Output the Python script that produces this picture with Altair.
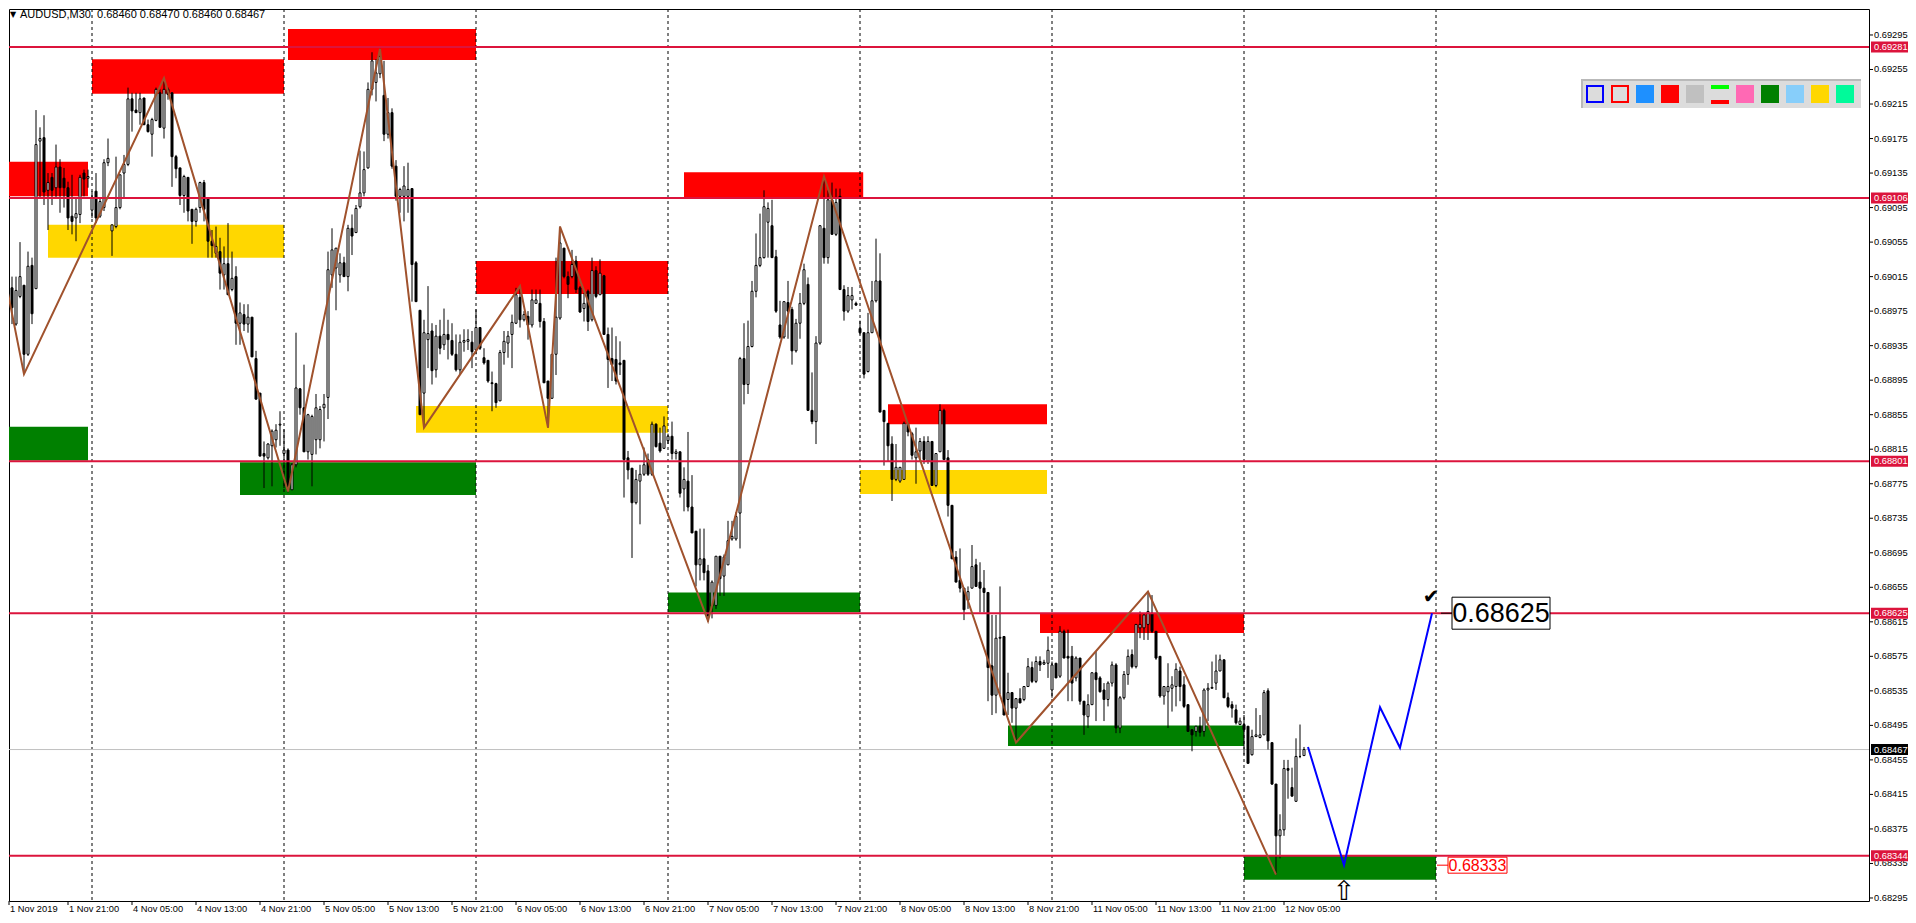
import altair as alt
import pandas as pd

FONT = "Liberation Sans"
SYM_FONT = "DejaVu Sans"

# ---------------- data (prices as points above 0.68000, 1 point = 0.00001) -------------
OPEN = [
 946,979,1002,960,992,1005,925,1028,1001,1172,
 1176,1115,1130,1118,1142,1129,1118,1085,1083,1087,
 1135,1129,1092,1114,1085,1095,1147,1068,1073,1095,
 1135,1145,1221,1208,1205,1222,1191,1180,1196,1228,
 1187,1232,1228,1154,1141,1109,1130,1093,1079,1095,
 1124,1106,1056,1042,1044,1017,1030,1000,1015,961,
 971,960,968,920,880,810,805,819,826,843,
 810,814,768,797,885,863,812,809,826,826,
 863,875,1017,1025,1017,1031,1015,1071,1066,1096,
 1112,1141,1232,1240,1250,1225,1180,1205,1143,1108,
 1108,1108,1117,1031,976,880,942,952,907,946,
 936,948,941,925,907,939,940,939,930,956,
 921,918,892,891,871,927,938,948,961,991,
 965,969,959,984,984,963,894,874,925,967,
 1048,1015,1015,1033,1002,978,998,965,1022,994,
 1016,948,920,919,915,918,805,793,753,778,
 786,803,786,844,822,816,825,830,810,812,
 769,778,748,720,681,688,674,633,634,691,
 668,681,711,711,741,920,890,934,998,1028,
 1037,1078,1074,1038,959,945,985,977,929,961,
 984,1006,860,847,938,1071,1037,1104,1064,1108,
 1000,975,988,984,955,950,905,950,987,1010,
 860,845,821,780,778,780,844,833,805,813,
 824,801,824,773,812,860,805,750,690,663,
 654,640,654,681,661,654,649,564,530,596,
 598,525,533,515,526,525,540,562,546,569,
 566,567,536,567,552,604,575,575,550,573,
 523,505,519,556,550,536,525,544,565,492,
 527,554,577,563,608,608,612,625,604,575,
 529,534,538,540,558,542,519,490,488,494,
 488,536,538,544,558,571,527,519,513,496,
 496,494,461,482,481,484,535,475,427,367,
 374,445,423,407,459,460]

HIGH = [
 987,1009,1015,1015,1055,1005,1044,1037,1208,1188,
 1202,1135,1135,1168,1151,1141,1125,1133,1106,1133,
 1139,1139,1114,1135,1106,1151,1175,1075,1154,1133,
 1156,1234,1228,1228,1228,1222,1197,1199,1234,1232,
 1245,1234,1228,1156,1141,1133,1130,1093,1095,1125,
 1127,1106,1069,1073,1060,1050,1077,1044,1027,985,
 983,983,968,929,880,824,822,838,844,859,
 838,816,799,950,886,913,856,855,879,865,
 879,1044,1071,1048,1042,1038,1075,1087,1098,1161,
 1160,1240,1275,1267,1279,1265,1222,1210,1150,1118,
 1143,1147,1117,1033,976,965,1004,961,959,965,
 978,965,961,948,948,954,954,952,977,956,
 932,918,905,892,930,952,952,971,1002,1004,
 975,975,1000,1000,1000,967,894,925,1037,1073,
 1048,1021,1046,1039,1004,996,1000,1037,1027,1035,
 1017,956,956,946,940,918,813,793,791,797,
 817,810,847,845,840,853,833,847,815,812,
 794,835,785,720,723,723,681,663,691,691,
 693,732,732,742,922,961,964,1010,1065,1088,
 1115,1101,1104,1046,987,986,1010,980,966,996,
 1030,1014,904,946,1074,1131,1115,1124,1117,1117,
 1005,1003,1003,986,964,950,973,1010,1059,1042,
 860,845,830,821,794,847,845,835,840,828,
 830,830,824,810,867,862,814,750,697,700,
 654,656,704,688,684,675,649,623,623,656,
 598,556,533,526,538,540,573,569,575,575,
 571,598,569,567,610,606,606,587,575,573,
 523,531,556,581,552,544,546,569,567,529,
 558,583,583,612,627,625,650,646,604,575,
 540,567,552,567,563,552,519,490,494,505,
 538,544,569,577,577,571,533,523,519,504,
 507,494,490,515,507,536,538,475,427,392,
 455,455,446,480,496,470]

LOW = [
 944,944,960,958,990,902,923,960,1001,1106,
 1098,1069,1098,1106,1089,1095,1069,1064,1056,1077,
 1108,1118,1083,1077,1083,1091,1143,1039,1071,1093,
 1106,1143,1183,1205,1191,1191,1182,1154,1195,1188,
 1175,1220,1119,1129,1098,1089,1079,1053,1073,1089,
 1079,1037,1037,1037,1000,1000,994,998,936,936,
 952,950,922,873,807,770,803,772,817,819,
 770,765,768,794,855,812,803,772,809,816,
 824,850,1002,976,1008,1015,998,1040,1066,1094,
 1108,1140,1225,1218,1245,1172,1175,1140,1103,1089,
 1079,1089,986,986,855,840,909,890,898,925,
 930,919,923,905,901,928,930,909,925,930,
 913,892,859,863,871,913,921,909,960,956,
 963,942,956,984,956,892,840,874,901,965,
 1013,990,1013,996,973,963,952,963,990,994,
 948,886,894,890,901,759,780,689,751,728,
 784,784,784,817,811,816,821,803,803,759,
 743,743,718,656,663,663,615,619,630,645,
 645,681,709,709,700,867,879,933,991,1026,
 1036,1037,1037,973,943,943,943,913,927,943,
 982,860,844,821,936,1030,1030,1064,1062,1000,
 964,973,977,981,948,897,904,950,985,858,
 796,801,755,778,776,780,830,803,775,801,
 798,798,773,771,812,803,737,688,661,649,
 617,630,654,656,626,626,523,507,509,531,
 507,507,498,475,521,523,540,544,544,558,
 565,550,527,550,550,573,523,523,546,519,
 484,492,519,500,533,500,517,540,486,486,
 525,542,561,561,596,594,594,602,571,527,
 519,492,511,517,523,515,488,465,482,482,
 482,500,538,536,558,527,515,504,496,496,
 461,451,460,482,480,484,467,426,322,341,
 367,410,413,407,457,460]

CLOSE = [
 983,1006,979,999,1015,925,1027,972,1168,1175,
 1113,1124,1115,1142,1118,1118,1083,1079,1088,1130,
 1128,1131,1107,1083,1102,1147,1152,1075,1095,1133,
 1145,1221,1207,1205,1221,1191,1183,1197,1232,1188,
 1232,1226,1154,1140,1109,1131,1091,1079,1093,1124,
 1093,1056,1051,1050,1019,1030,994,1013,961,973,
 960,968,922,873,807,807,821,836,837,844,
 814,768,797,886,863,812,855,853,863,861,
 867,1023,1046,1048,1031,1015,1071,1062,1094,1112,
 1139,1232,1265,1251,1270,1180,1205,1143,1108,1116,
 1120,1116,1029,986,855,950,949,906,946,932,
 948,942,925,907,939,941,942,928,956,932,
 915,894,891,869,927,940,946,962,994,965,
 971,959,988,988,963,892,874,925,968,1054,
 1015,1006,1029,1000,974,984,963,1022,992,1019,
 948,919,913,894,913,803,791,753,780,786,
 797,786,844,818,813,842,830,810,812,764,
 780,748,718,681,688,672,622,661,691,665,
 690,709,714,737,920,890,934,998,1028,1037,
 1096,1094,1037,975,945,986,975,929,961,984,
 1023,860,847,938,1074,1037,1104,1064,1101,1000,
 975,993,993,982,950,902,950,987,1010,858,
 847,819,780,794,794,845,835,808,812,824,
 803,824,773,810,860,803,750,688,661,654,
 629,650,679,656,654,649,562,530,596,597,
 507,533,515,526,521,540,563,546,569,565,
 568,582,565,550,604,573,573,544,573,523,
 507,519,556,548,534,525,544,565,492,527,
 554,575,563,612,612,623,627,604,573,529,
 540,540,542,560,540,517,488,484,494,487,
 536,538,539,558,571,527,517,515,498,500,
 490,451,482,484,484,533,477,427,367,374,
 445,443,413,459,459,467]

TIME_LABELS = ["1 Nov 2019", "1 Nov 21:00", "4 Nov 05:00", "4 Nov 13:00", "4 Nov 21:00",
               "5 Nov 05:00", "5 Nov 13:00", "5 Nov 21:00", "6 Nov 05:00", "6 Nov 13:00",
               "6 Nov 21:00", "7 Nov 05:00", "7 Nov 13:00", "7 Nov 21:00", "8 Nov 05:00",
               "8 Nov 13:00", "8 Nov 21:00", "11 Nov 05:00", "11 Nov 13:00", "11 Nov 21:00",
               "12 Nov 05:00"]
TIME_TICK_BARS = [1.25, 16, 32, 48, 64, 80, 96, 112, 128, 144, 160, 176, 192, 208, 224,
                  240, 256, 272, 288, 304, 320]
PRICE_TICKS = [0.68295, 0.68335, 0.68375, 0.68415, 0.68455, 0.68495, 0.68535, 0.68575,
               0.68615, 0.68655, 0.68695, 0.68735, 0.68775, 0.68815, 0.68855, 0.68895,
               0.68935, 0.68975, 0.69015, 0.69055, 0.69095, 0.69135, 0.69175, 0.69215,
               0.69255, 0.69295]

ZONE_START = [-1, 22, 71, 11, -1, 59, 118, 103, 170, 166, 221, 214, 259, 251, 310]
ZONE_END = [21, 70, 118, 70, 21, 118, 166, 166, 214.8, 214, 260.75, 260.75, 310, 310, 358]
ZONE_LOW = [1108, 1227, 1266, 1037, 802, 762, 995, 834, 1107, 626, 844, 763, 602, 471, 316]
ZONE_HIGH = [1148, 1267, 1302, 1075, 841, 800, 1033, 865, 1136, 649, 867, 791, 625, 495, 344]
ZONE_COLOR = ["#FF0000", "#FF0000", "#FF0000", "#FFD700", "#008000", "#008000", "#FF0000",
              "#FFD700", "#FF0000", "#008000", "#FF0000", "#FFD700", "#FF0000", "#008000",
              "#008000"]

LEVELS = [1281, 1106, 801, 625, 344]
LAST_PRICE = 467
DAY_STARTS = [22, 70, 118, 166, 214, 262, 310, 358]

ZZ_BAR = [-0.25, 5, 40, 71, 94, 105, 129, 136, 139, 176, 205, 253, 286, 318]
ZZ_PTS = [1025, 902, 1245, 766, 1279, 840, 1004, 840, 1073, 616, 1131, 475, 650, 322]

PATH_BAR = [326, 335, 344, 349, 357]
PATH_PTS = [470, 333, 516, 469, 625]

TARGET_BAR, TARGET_PTS = 358, 625
STOP_BAR, STOP_PTS = 358, 333
ARROW_BAR = 335

TOOL_FILLS = ["#DCDCDC", "#DCDCDC", "#1E90FF", "#FF0000", "#C0C0C0", "lines", "#FF69B4",
              "#008000", "#87CEFA", "#FFD700", "#00FA9A"]
TOOL_OUTLINES = {0: "#0000FF", 1: "#FF0000"}


def price(v):
    return round(0.68 + v / 100000.0, 5)


# ---------------- layout ----------------
W, H = 1860, 892
LABEL_SIZE = 9.3
xs = alt.Scale(domain=[1.25, 1.25 + W / 4.0], nice=False, zero=False)
ys = alt.Scale(domain=[0.682915, 0.693251], nice=False, zero=False)


def X(f):
    return alt.X(f, scale=xs, axis=None)


def Y(f):
    return alt.Y(f, scale=ys, axis=None)


n = min(len(OPEN), len(HIGH), len(LOW), len(CLOSE))
cd = pd.DataFrame({
    "bar": list(range(n)),
    "o": [price(v) for v in OPEN[:n]],
    "h": [price(v) for v in HIGH[:n]],
    "l": [price(v) for v in LOW[:n]],
    "c": [price(v) for v in CLOSE[:n]],
})
cd["b0"] = cd["bar"] - 0.25
cd["b1"] = cd["bar"] + 0.25

zones_df = pd.DataFrame({
    "b0": ZONE_START, "b1": ZONE_END,
    "p0": [price(v) for v in ZONE_LOW], "p1": [price(v) for v in ZONE_HIGH],
    "col": ZONE_COLOR,
})
zones = alt.Chart(zones_df).mark_rect(clip=True).encode(
    x=X("b0:Q"), x2="b1:Q", y=Y("p0:Q"), y2="p1:Q",
    fill=alt.Fill("col:N", scale=None))

seps = alt.Chart(pd.DataFrame({"bar": DAY_STARTS})).mark_rule(
    color="black", strokeWidth=1, strokeDash=[3, 3]).encode(x=X("bar:Q"))

levels_df = pd.DataFrame({"p": [price(v) for v in LEVELS]})
levels = alt.Chart(levels_df).mark_rule(color="#DC143C", strokeWidth=2).encode(y=Y("p:Q"))

last_df = pd.DataFrame({"p": [price(LAST_PRICE)]})
last_line = alt.Chart(last_df).mark_rule(color="#C0C0C0", strokeWidth=1).encode(y=Y("p:Q"))

wicks = alt.Chart(cd).mark_rule(color="black", strokeWidth=1, clip=True).encode(
    x=X("bar:Q"), y=Y("l:Q"), y2="h:Q")
bodies = alt.Chart(cd).mark_rect(stroke="black", strokeWidth=1, clip=True).encode(
    x=X("b0:Q"), x2="b1:Q", y=Y("o:Q"), y2="c:Q",
    fill=alt.condition("datum.c >= datum.o", alt.value("white"), alt.value("black")))

zz_df = pd.DataFrame({"k": list(range(len(ZZ_BAR))), "bar": ZZ_BAR,
                      "p": [price(v) for v in ZZ_PTS]})
zigzag = alt.Chart(zz_df).mark_line(color="#A0522D", strokeWidth=2, clip=True).encode(
    x=X("bar:Q"), y=Y("p:Q"), order="k:Q")

path_df = pd.DataFrame({"k": list(range(len(PATH_BAR))), "bar": PATH_BAR,
                        "p": [price(v) for v in PATH_PTS]})
path = alt.Chart(path_df).mark_line(color="#0000FF", strokeWidth=2).encode(
    x=X("bar:Q"), y=Y("p:Q"), order="k:Q")

# ---------------- axes (drawn through the scales) ----------------
yt_df = pd.DataFrame({"p": PRICE_TICKS, "txt": ["%.5f" % v for v in PRICE_TICKS]})
y_ticks = alt.Chart(yt_df).mark_rule(color="black", strokeWidth=1).encode(
    x=alt.value(W), x2=alt.value(W + 4), y=Y("p:Q"))
y_labels = alt.Chart(yt_df).mark_text(align="left", baseline="middle", font=FONT,
                                      fontSize=LABEL_SIZE, color="black").encode(
    x=alt.value(W + 5), y=Y("p:Q"), text="txt:N")

xt_df = pd.DataFrame({"bar": TIME_TICK_BARS, "txt": TIME_LABELS})
x_ticks = alt.Chart(xt_df).mark_rule(color="black", strokeWidth=1).encode(
    x=X("bar:Q"), y=alt.value(H), y2=alt.value(H + 4))
x_labels = alt.Chart(xt_df).mark_text(align="left", baseline="middle", font=FONT,
                                      fontSize=LABEL_SIZE, color="black", dx=1).encode(
    x=X("bar:Q"), y=alt.value(H + 8), text="txt:N")

# price tags on the right axis
tag_prices = LEVELS + [LAST_PRICE]
tags_df = pd.DataFrame({
    "p": [price(v) for v in tag_prices],
    "txt": ["%.5f" % price(v) for v in tag_prices],
    "bg": ["#DC143C"] * len(LEVELS) + ["black"],
})
tag_bg = alt.Chart(tags_df).mark_rect(yOffset=-5.5, y2Offset=5.5).encode(
    x=alt.value(W + 2), x2=alt.value(W + 39), y=Y("p:Q"), y2="p:Q",
    fill=alt.Fill("bg:N", scale=None))
tag_tx = alt.Chart(tags_df).mark_text(align="left", baseline="middle", color="white",
                                      font=FONT, fontSize=LABEL_SIZE).encode(
    x=alt.value(W + 5), y=Y("p:Q"), text="txt:N")

# ---------------- annotations ----------------
tgt = pd.DataFrame({"bar": [TARGET_BAR], "p": [price(TARGET_PTS)],
                    "txt": ["%.5f" % price(TARGET_PTS)]})
tgt_link = alt.Chart(tgt).mark_rule(color="black", strokeWidth=1, xOffset=5, x2Offset=16).encode(
    x=X("bar:Q"), x2="bar:Q", y=Y("p:Q"))
tgt_box = alt.Chart(tgt).mark_rect(fill="white", stroke="black", strokeWidth=1,
                                   xOffset=16, x2Offset=114, yOffset=-16, y2Offset=16).encode(
    x=X("bar:Q"), x2="bar:Q", y=Y("p:Q"), y2="p:Q")
tgt_txt = alt.Chart(tgt).mark_text(font=FONT, fontSize=27, color="black", align="center",
                                   baseline="middle", dx=65, dy=1).encode(
    x=X("bar:Q"), y=Y("p:Q"), text="txt:N")
check = alt.Chart(tgt).mark_text(font=SYM_FONT, fontSize=20, color="black",
                                 align="center", baseline="middle", dx=-5, dy=-16,
                                 text="\u2714").encode(x=X("bar:Q"), y=Y("p:Q"))

stp = pd.DataFrame({"bar": [STOP_BAR], "p": [price(STOP_PTS)],
                    "txt": ["%.5f" % price(STOP_PTS)]})
stp_link = alt.Chart(stp).mark_rule(color="#FF0000", strokeWidth=1, xOffset=1, x2Offset=12).encode(
    x=X("bar:Q"), x2="bar:Q", y=Y("p:Q"))
stp_box = alt.Chart(stp).mark_rect(fill="white", stroke="#FF0000", strokeWidth=1,
                                   xOffset=12, x2Offset=71, yOffset=-8, y2Offset=8).encode(
    x=X("bar:Q"), x2="bar:Q", y=Y("p:Q"), y2="p:Q")
stp_txt = alt.Chart(stp).mark_text(font=FONT, fontSize=16, color="#FF0000", align="center",
                                   baseline="middle", dx=41.5, dy=1).encode(
    x=X("bar:Q"), y=Y("p:Q"), text="txt:N")

arr_df = pd.DataFrame({"bar": [ARROW_BAR], "p": [price(STOP_PTS)]})
arrow = alt.Chart(arr_df).mark_text(font=SYM_FONT, fontSize=27, color="black", align="center",
                                    baseline="middle", dy=27, text="\u21e7").encode(
    x=X("bar:Q"), y=Y("p:Q"))

# header
head_df = pd.DataFrame({"t": ["AUDUSD,M30\u00a0 0.68460 0.68470 0.68460 0.68467"]})
head = alt.Chart(head_df).mark_text(align="left", baseline="middle", font=FONT,
                                    fontSize=11, color="black").encode(
    x=alt.value(11), y=alt.value(6), text="t:N")
tri = alt.Chart(head_df).mark_text(align="center", baseline="middle", font=SYM_FONT,
                                   fontSize=8, color="black", text="\u25bc").encode(
    x=alt.value(4), y=alt.value(6))

# colour toolbar (top right), drawn as fixed-position widgets
TB_X = W - 288
tb_rows = [
    (TB_X, TB_X + 280, 70, 99, "#DCDCDC"),
    (TB_X, TB_X + 280, 70, 72, "#B9B9B9"),
    (TB_X, TB_X + 2, 70, 99, "#B9B9B9"),
]
for k, f in enumerate(TOOL_FILLS):
    x0 = TB_X + 5 + 25 * k
    if f == "lines":
        tb_rows.append((x0, x0 + 18, 76, 80, "#00FF00"))
        tb_rows.append((x0, x0 + 18, 91, 95, "#FF0000"))
    elif k not in TOOL_OUTLINES:
        tb_rows.append((x0, x0 + 18, 76, 94, f))

one = pd.DataFrame({"a": [0]})
tb_layers = []
for (x0, x1, y0, y1, f) in tb_rows:
    tb_layers.append(alt.Chart(one).mark_rect(fill=f).encode(
        x=alt.value(x0), x2=alt.value(x1), y=alt.value(y0), y2=alt.value(y1)))
for k, c in TOOL_OUTLINES.items():
    x0 = TB_X + 5 + 25 * k
    tb_layers.append(alt.Chart(one).mark_rect(fill="#DCDCDC", stroke=c, strokeWidth=2).encode(
        x=alt.value(x0 + 1), x2=alt.value(x0 + 17), y=alt.value(77), y2=alt.value(93)))

chart = alt.layer(
    zones, seps, last_line, wicks, bodies, levels, zigzag, path,
    tgt_link, tgt_box, tgt_txt, check, stp_link, stp_box, stp_txt, arrow,
    head, tri, *tb_layers,
    y_ticks, y_labels, x_ticks, x_labels, tag_bg, tag_tx,
).properties(
    width=W, height=H, padding=0, background="white"
).configure_view(
    stroke="black", strokeWidth=1
)

chart.save("out.html", embed_options={"renderer": "svg", "actions": False})
